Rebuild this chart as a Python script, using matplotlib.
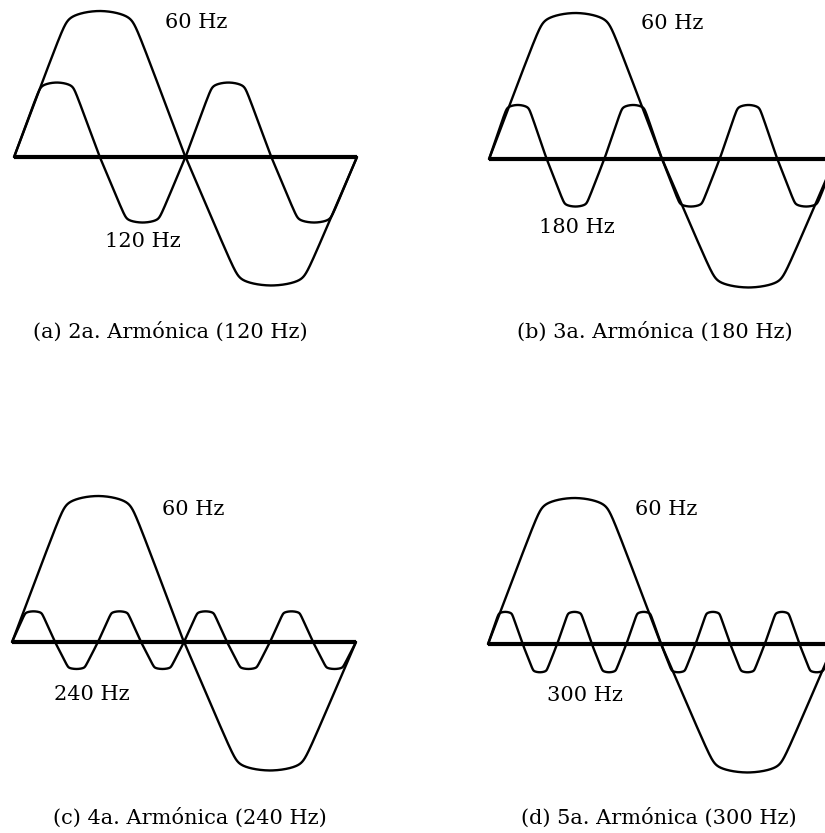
import numpy as np
import matplotlib
matplotlib.use("Agg")
import matplotlib.pyplot as plt

W, H = 825, 833

# harmonic content of each panel
harmonic_order = [2, 3, 4, 5]
harmonic_freq = [120, 180, 240, 300]
harmonic_amp = [0.51, 0.37, 0.21, 0.22]      # relative to the 60 Hz wave
captions = ["(a) 2a. Armónica (120 Hz)", "(b) 3a. Armónica (180 Hz)",
            "(c) 4a. Armónica (240 Hz)", "(d) 5a. Armónica (300 Hz)"]
fund_label = "60 Hz"

# panel placement in pixels: start of the zero line, zero-line height, period length
panel_x0 = [14, 489, 12, 488]
panel_y0 = [157, 159, 642, 644]
panel_len = [343, 346, 344, 346]
amp_px = 146
neg_scale = 0.88

# label positions in panel units (x in cycles, y in fundamental amplitude)
fund_lbl_pos = [(0.53, 0.92), (0.53, 0.93), (0.526, 0.91), (0.515, 0.92)]
harm_lbl_pos = [(0.376, -0.58), (0.254, -0.47), (0.233, -0.36), (0.28, -0.35)]
caption_pos = [(170, 332), (655, 332), (190, 818), (659, 818)]

RAMP = 0.64      # share of the quarter period spent on the straight flank
ARCH = 0.28      # curvature of the rounded crest
EPS = 0.006      # corner smoothing


def softmin(a, b):
    return 0.5 * (a + b - np.sqrt((a - b) ** 2 + EPS))


def trapezoid(phase):
    # straight flanks meeting a slightly arched crest, corners softened
    tri = 4 * np.abs(((phase - 0.25) % 1) - 0.5) - 1
    u = np.abs(tri)
    y = softmin(u / RAMP, 1 - ARCH * (1 - u) ** 2)
    y = np.sign(tri) * y / softmin(1 / RAMP, 1.0)
    return np.where(y < 0, y * neg_scale, y)


plt.rcParams["font.family"] = ["DejaVu Serif"]
fig = plt.figure(figsize=(W / 100, H / 100), dpi=100)
fig.patch.set_facecolor("white")

t = np.linspace(0, 1, 2000)
ylim = 1.2
for i in range(4):
    rect = [panel_x0[i] / W,
            1 - (panel_y0[i] + ylim * amp_px) / H,
            panel_len[i] / W,
            2 * ylim * amp_px / H]
    ax = fig.add_axes(rect)
    ax.set_xlim(0, 1)
    ax.set_ylim(-ylim, ylim)
    ax.axis("off")

    n = harmonic_order[i]
    ax.plot(t, trapezoid(t), color="black", lw=1.7, clip_on=False,
            solid_capstyle="round", solid_joinstyle="round")
    ax.plot(t, harmonic_amp[i] * trapezoid(n * t), color="black", lw=1.7,
            clip_on=False, solid_capstyle="round")
    ax.plot([0, 1], [0, 0], color="black", lw=3.0, clip_on=False,
            solid_capstyle="butt")

    fx, fy = fund_lbl_pos[i]
    ax.text(fx, fy, fund_label, ha="center", va="center", fontsize=15)
    hx, hy = harm_lbl_pos[i]
    ax.text(hx, hy, f"{harmonic_freq[i]} Hz", ha="center", va="center",
            fontsize=15)

    cx, cy = caption_pos[i]
    fig.text(cx / W, 1 - cy / H, captions[i], ha="center", va="center",
             fontsize=15)

fig.savefig("out.png", dpi=100, facecolor="white")
